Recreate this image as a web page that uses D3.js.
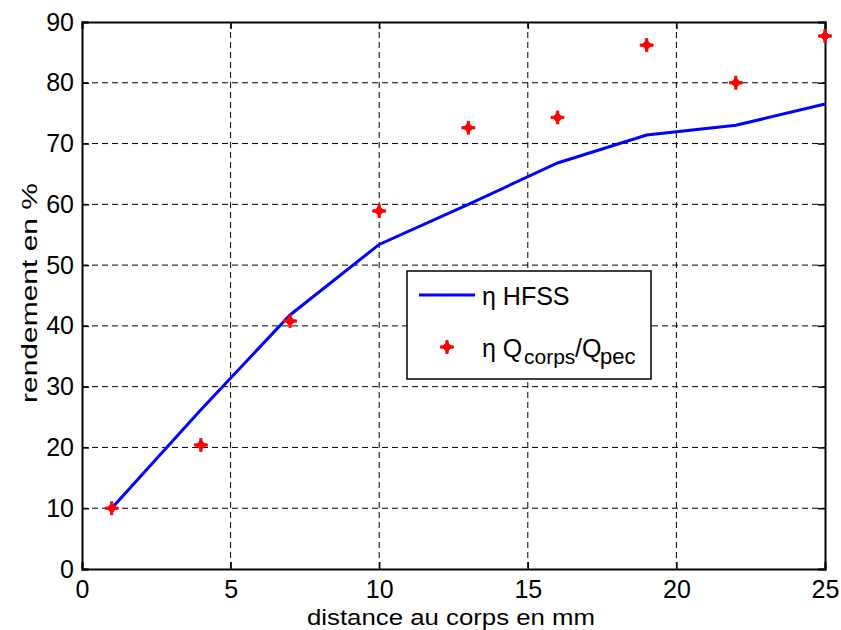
<!DOCTYPE html>
<html><head><meta charset="utf-8">
<script src="https://cdn.jsdelivr.net/npm/d3@7"></script>
<style>body{margin:0;background:#fff}</style>
</head><body>
<svg id="c" width="841" height="630"></svg>
<script>
const distances = [1, 4, 7, 10, 13, 16, 19, 22, 25];
const hfss = [10, 26.2, 41.8, 53.4, 60.0, 66.8, 71.4, 73.0, 76.5];
const qratio = [10, 20.4, 40.8, 58.9, 72.6, 74.3, 86.2, 80.0, 87.7];
const xTicks = [0, 5, 10, 15, 20, 25];
const yTicks = [0, 10, 20, 30, 40, 50, 60, 70, 80, 90];

const svg = d3.select("#c");
const L = 82, R = 825, T = 22, B = 569;
const x = d3.scaleLinear().domain([0, 25]).range([L, R]);
const y = d3.scaleLinear().domain([0, 90]).range([B, T]);
const font = "Liberation Sans, Arial, sans-serif";

// grid
const g = svg.append("g");
g.selectAll(".gx").data(xTicks.slice(1, -1)).join("line")
  .attr("x1", d => x(d)).attr("x2", d => x(d)).attr("y1", T).attr("y2", B)
  .attr("stroke", "#000").attr("stroke-width", 1).attr("stroke-dasharray", "6,4");
g.selectAll(".gy").data(yTicks.slice(1, -1)).join("line")
  .attr("y1", d => y(d)).attr("y2", d => y(d)).attr("x1", L).attr("x2", R)
  .attr("stroke", "#000").attr("stroke-width", 1).attr("stroke-dasharray", "6,4");

// axes
const ax = d3.axisBottom(x).tickValues(xTicks).tickSize(-7).tickPadding(11);
const ay = d3.axisLeft(y).tickValues(yTicks).tickSize(-7).tickPadding(8);
const gx = svg.append("g").attr("transform", `translate(0,${B})`).call(ax);
const gy = svg.append("g").attr("transform", `translate(${L},0)`).call(ay);
const gx2 = svg.append("g").attr("transform", `translate(0,${T})`).call(d3.axisTop(x).tickValues(xTicks).tickSize(-7).tickFormat(""));
const gy2 = svg.append("g").attr("transform", `translate(${R},0)`).call(d3.axisRight(y).tickValues(yTicks).tickSize(-7).tickFormat(""));
[gx, gy, gx2, gy2].forEach(a => {
  a.select(".domain").attr("stroke", "#000").attr("stroke-width", 2);
  a.selectAll(".tick line").attr("stroke", "#000").attr("stroke-width", 1.5);
  a.selectAll("text").attr("font-family", font).attr("font-size", 25).attr("fill", "#000");
});

// line
svg.append("path").datum(distances.map((d, i) => [d, hfss[i]]))
  .attr("d", d3.line().x(d => x(d[0])).y(d => y(d[1])))
  .attr("fill", "none").attr("stroke", "#0000ff").attr("stroke-width", 3);

// markers: diamond + plus
const star = "M0,-5 L5,0 L0,5 L-5,0 Z M-1.2,-6.5 H1.2 V-1.2 H6.5 V1.2 H1.2 V6.5 H-1.2 V1.2 H-6.5 V-1.2 H-1.2 Z";
svg.selectAll(".pt").data(distances.map((d, i) => [d, qratio[i]])).join("path")
  .attr("d", star).attr("transform", d => `translate(${x(d[0])},${y(d[1])})`)
  .attr("fill", "#ff0000").attr("stroke", "#ff0000").attr("stroke-width", 0.8);

// axis labels
svg.append("text").attr("x", 451).attr("y", 625).attr("text-anchor", "middle")
  .attr("font-family", font).attr("font-size", 22)
  .attr("textLength", 288).attr("lengthAdjust", "spacingAndGlyphs")
  .text("distance au corps en mm");
svg.append("text").attr("transform", "translate(37,293) rotate(-90)").attr("text-anchor", "middle")
  .attr("font-family", font).attr("font-size", 22)
  .attr("textLength", 220).attr("lengthAdjust", "spacingAndGlyphs")
  .text("rendement en %");

// legend
const lg = svg.append("g");
lg.append("rect").attr("x", 407).attr("y", 271).attr("width", 244).attr("height", 108)
  .attr("fill", "#fff").attr("stroke", "#000").attr("stroke-width", 1.5);
lg.append("line").attr("x1", 419).attr("x2", 475).attr("y1", 295).attr("y2", 295)
  .attr("stroke", "#0000ff").attr("stroke-width", 3);
lg.append("text").attr("x", 482).attr("y", 305).attr("font-family", font).attr("font-size", 25)
  .text("η HFSS");
lg.append("path").attr("d", star).attr("transform", "translate(447,347)")
  .attr("fill", "#ff0000").attr("stroke", "#ff0000").attr("stroke-width", 0.8);
const t2 = lg.append("text").attr("y", 357).attr("font-family", font).attr("font-size", 25);
t2.append("tspan").attr("x", 482).text("η Q");
t2.append("tspan").attr("x", 524).attr("y", 364).attr("font-size", 21).text("corps");
t2.append("tspan").attr("x", 575).attr("y", 357).text("/Q");
t2.append("tspan").attr("x", 600).attr("y", 364).attr("font-size", 22).text("pec");
</script>
</body></html>
